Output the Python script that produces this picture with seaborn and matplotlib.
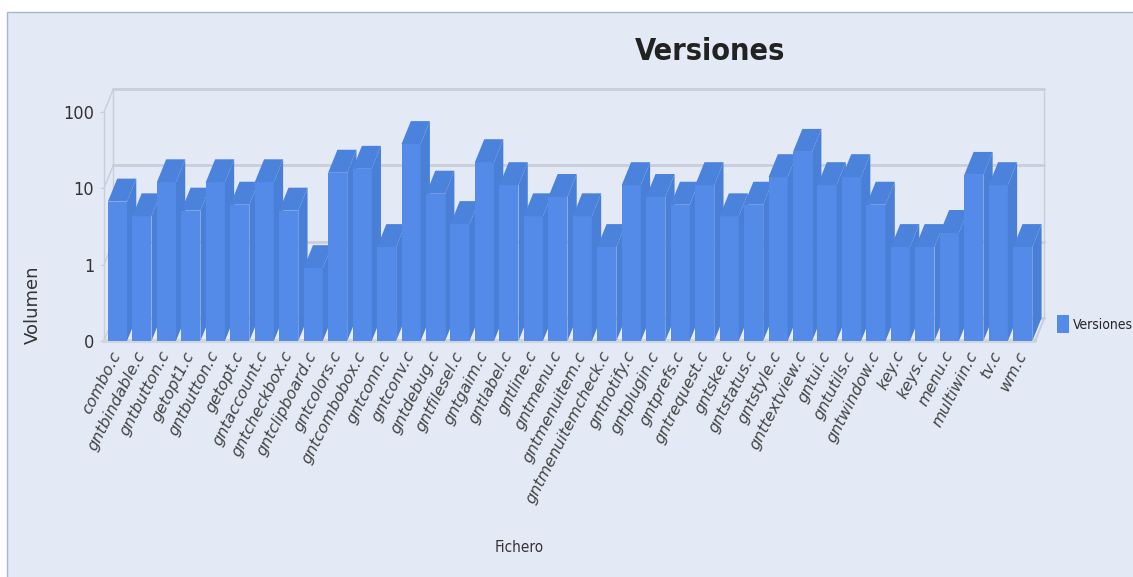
import pandas as pd
import seaborn as sns
import matplotlib.pyplot as plt
from matplotlib.patches import Polygon, Rectangle, Patch
from matplotlib.ticker import NullLocator

# datos (escala logaritmica, "0" = 0.1)
ficheros = ['combo.c', 'gntbindable.c', 'gntbutton.c', 'getopt1.c', 'gntbutton.c', 'getopt.c',
            'gntaccount.c', 'gntcheckbox.c', 'gntclipboard.c', 'gntcolors.c', 'gntcombobox.c',
            'gntconn.c', 'gntconv.c', 'gntdebug.c', 'gntfilesel.c', 'gntgaim.c', 'gntlabel.c',
            'gntline.c', 'gntmenu.c', 'gntmenuitem.c', 'gntmenuitemcheck.c', 'gntnotify.c',
            'gntplugin.c', 'gntprefs.c', 'gntrequest.c', 'gntske.c', 'gntstatus.c', 'gntstyle.c',
            'gnttextview.c', 'gntui.c', 'gntutils.c', 'gntwindow.c', 'key.c', 'keys.c', 'menu.c',
            'multiwin.c', 'tv.c', 'wm.c']
versiones = [6.7, 4.3, 12, 5.1, 12, 6.1, 12, 5.1, 0.9, 16,
             18, 1.7, 38, 8.5, 3.4, 22, 11, 4.3, 7.7, 4.3,
             1.7, 11, 7.7, 6.1, 11, 4.3, 6.1, 14, 30, 11,
             14, 6.1, 1.7, 1.7, 2.6, 15, 11, 1.7]
y_ticks = [0.1, 1, 10, 100]
y_tick_labels = ['0', '1', '10', '100']

BG = '#E3E9F5'
FRONT = '#548BE8'
SIDE = '#4A7FD8'
TOP = '#4B82DB'
GRID = '#C9CFDA'
NARROW = dict(family='DejaVu Sans', stretch='condensed')

# desplazamiento de la profundidad 3D
DX = 0.38
DY = 2.0
BAR_W = 0.78
X0, X1 = -0.55, 37.5


def main():
    sns.set_style('white')
    plt.rcParams['font.family'] = ['DejaVu Sans']

    df = pd.DataFrame({'pos': range(len(versiones)), 'versiones': versiones})

    fig = plt.figure(figsize=(11.33, 5.77), dpi=100, facecolor='white')
    fig.patches.append(Rectangle((7 / 1133, -0.1), 1.2, 0.1 + (577 - 12) / 577,
                                 transform=fig.transFigure, facecolor=BG,
                                 edgecolor='#A7B7D2', lw=1, zorder=-10))
    ax = fig.add_axes([104 / 1133, (577 - 341) / 577, 931 / 1133, 229 / 577])
    ax.set_facecolor('none')

    sns.barplot(data=df, x='pos', y='versiones', color=FRONT, width=BAR_W,
                saturation=1, ax=ax)
    ax.set_yscale('log')
    ax.set_ylim(0.1, 100)
    ax.set_xlim(X0, X1)

    # caras frontales, laterales y superiores de las barras
    for i, (bar, v) in enumerate(zip(ax.patches, versiones)):
        bar.set_y(0.1)
        bar.set_height(v - 0.1)
        bar.set_zorder(3 + 2 * i)
        bar.set_edgecolor('none')
        xl, xr = i - BAR_W / 2, i + BAR_W / 2
        side = Polygon([(xr, 0.1), (xr, v), (xr + DX, v * DY), (xr + DX, 0.1 * DY)],
                       closed=True, facecolor=SIDE, edgecolor='none',
                       zorder=4 + 2 * i, clip_on=False)
        top = Polygon([(xl, v), (xr, v), (xr + DX, v * DY), (xl + DX, v * DY)],
                      closed=True, facecolor=TOP, edgecolor='none',
                      zorder=4 + 2 * i, clip_on=False)
        ax.add_patch(side)
        ax.add_patch(top)

    # paredes del fondo
    for v in y_ticks:
        ax.plot([X0 + DX, X1 + DX], [v * DY, v * DY], color=GRID, lw=2,
                clip_on=False, zorder=1)
        ax.plot([X0, X0 + DX], [v, v * DY], color=GRID, lw=1, clip_on=False, zorder=1)
    ax.plot([X0, X0], [0.1, 100], color=GRID, lw=1, clip_on=False, zorder=1)
    ax.plot([X0 + DX, X0 + DX], [0.1 * DY, 100 * DY], color=GRID, lw=1, clip_on=False, zorder=1)
    ax.plot([X1 + DX, X1 + DX], [0.1 * DY, 100 * DY], color=GRID, lw=1, clip_on=False, zorder=1)
    floor = Polygon([(X0, 0.1), (X1, 0.1), (X1 + DX, 0.1 * DY), (X0 + DX, 0.1 * DY)],
                    closed=True, facecolor='#E9EDF5', edgecolor='none', zorder=0.5, clip_on=False)
    ax.add_patch(floor)
    ax.plot([X0, X1], [0.1, 0.1], color='#D0D6E0', lw=3, clip_on=False, zorder=2)
    ax.plot([X1, X1 + DX], [0.1, 0.1 * DY], color=GRID, lw=1.5, clip_on=False, zorder=200)

    for s in ax.spines.values():
        s.set_visible(False)
    ax.grid(False)

    ax.set_yticks(y_ticks)
    ax.set_yticklabels(y_tick_labels, fontsize=13, color='#333333', **NARROW)
    ax.yaxis.set_minor_locator(NullLocator())
    ax.tick_params(axis='y', length=3, color=GRID, pad=4, left=True)

    ax.set_xticks(range(len(ficheros)))
    ax.set_xticklabels(ficheros, rotation=63, ha='right', va='center',
                       rotation_mode='anchor', fontsize=11.5, style='italic', color='#444444')
    ax.tick_params(axis='x', length=0, pad=8)
    ax.set_xlabel('')
    ax.set_ylabel('')

    fig.text(710 / 1133, 1 - 52 / 577, 'Versiones', ha='center', va='center',
             fontsize=22, weight='semibold', color='#222222', **NARROW)
    fig.text(33 / 1133, 1 - 305 / 577, 'Volumen', ha='center', va='center',
             rotation=90, fontsize=13, color='#333333')
    fig.text(519 / 1133, 1 - 548 / 577, 'Fichero', ha='center', va='center',
             fontsize=11, color='#333333', **NARROW)

    handle = Patch(facecolor=FRONT, edgecolor='none')
    ax.legend(handles=[handle], labels=['Versiones'], loc='center left',
              bbox_to_anchor=(1057 / 1133, 1 - 324 / 577), bbox_transform=fig.transFigure,
              frameon=False, handlelength=0.85, handleheight=1.6, handletextpad=0.3,
              borderaxespad=0, borderpad=0, prop=dict(size=10, **NARROW))

    fig.savefig('out.png', dpi=100, facecolor='white')


if __name__ == '__main__':
    main()
